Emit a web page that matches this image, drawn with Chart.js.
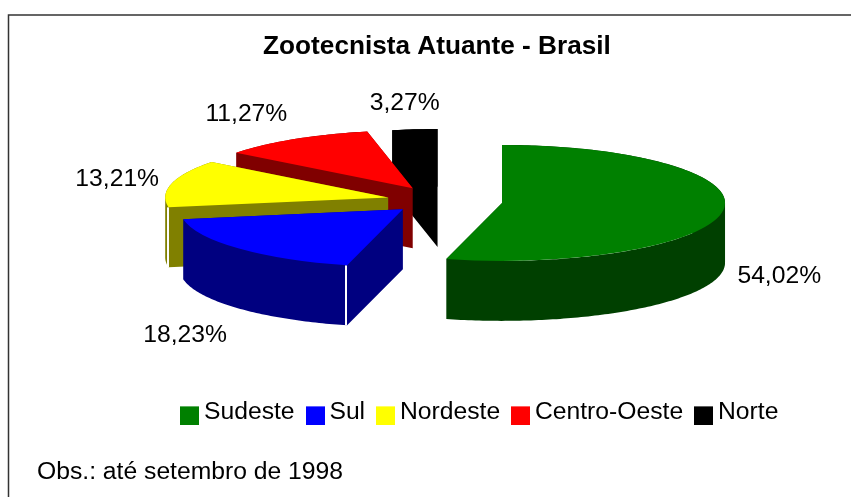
<!DOCTYPE html>
<html>
<head>
<meta charset="utf-8">
<style>html,body{margin:0;padding:0;background:#fff}canvas{display:block}</style>
<script src="https://cdn.jsdelivr.net/npm/chart.js@4"></script>
</head>
<body>
<canvas id="c" width="851" height="497"></canvas>
<script>
const categories = ['Sudeste', 'Sul', 'Nordeste', 'Centro-Oeste', 'Norte'];
const values = [54.02, 18.23, 13.21, 11.27, 3.27];
const topColors = ['#008000', '#0000FF', '#FFFF00', '#FF0000', '#000000'];
const sideColors = ['#004000', '#000080', '#808000', '#800000', '#000000'];
const chartTitle = 'Zootecnista Atuante - Brasil';
const footnote = 'Obs.: até setembro de 1998';

const FONT = '"Liberation Sans", Arial, sans-serif';
const drawOrder = [4, 3, 2, 1, 0];
const pieCentre = { x: 444.5, y: 201 };
const tilt = 0.26;
const depth = 60;
const explode = 58;
// Small per-slice refinements of the exploded position
const sliceNudge = [[0, 0], [1, -2], [0, 0], [-1, 0], [-1, 1]];
// Label nudges from the rim point of each slice's middle angle
const labelNudge = [[56, 66], [-54, 87], [-54.5, -4], [-48, -25], [-10, -26]];

function sliceShift(arc) {
  const mid = (arc.startAngle + arc.endAngle) / 2;
  const n = sliceNudge[arc.$index] || [0, 0];
  return { x: explode * Math.cos(mid) + n[0], y: tilt * explode * Math.sin(mid) + n[1] };
}

function rimPoint(arc, angle, r, dy) {
  const s = sliceShift(arc);
  return {
    x: pieCentre.x + s.x + r * Math.cos(angle),
    y: pieCentre.y + s.y + tilt * r * Math.sin(angle) + dy
  };
}

function addQuad(ctx, p, q, dy) {
  // Every quad runs the same way round, so one nonzero fill has no seams
  const [a, b] = p.x <= q.x ? [p, q] : [q, p];
  ctx.moveTo(a.x, a.y);
  ctx.lineTo(b.x, b.y);
  ctx.lineTo(b.x, b.y + dy);
  ctx.lineTo(a.x, a.y + dy);
  ctx.closePath();
}

function drawSides(ctx, arc, color) {
  const R = arc.outerRadius, a0 = arc.startAngle, a1 = arc.endAngle;
  ctx.beginPath();
  [a0, a1].forEach(a => addQuad(ctx, rimPoint(arc, a, 0, 0), rimPoint(arc, a, R, 0), depth));
  const steps = Math.max(8, Math.ceil((a1 - a0) * 60));
  for (let s = 0; s < steps; s++) {
    const b0 = a0 + (a1 - a0) * s / steps;
    const b1 = a0 + (a1 - a0) * (s + 1) / steps;
    addQuad(ctx, rimPoint(arc, b0, R, 0), rimPoint(arc, b1, R, 0), depth);
  }
  ctx.fillStyle = color;
  ctx.fill('nonzero');
  // Thin light seam where the rim meets a visible cut face
  if (Math.sin(a0) > 0) {
    const p = rimPoint(arc, a0, R, 0);
    ctx.fillStyle = '#fff';
    ctx.fillRect(Math.round(p.x) - 2, p.y, 2, depth);
  }
}

function legendSwatch(color) {
  // The square sits below the centre of its image, as in the reference legend
  const c = document.createElement('canvas');
  c.width = 19;
  c.height = 27;
  const g = c.getContext('2d');
  g.fillStyle = color;
  g.fillRect(0, 8, 19, 19);
  return c;
}

const pie3d = {
  id: 'pie3d',
  beforeDatasetDraw(chart) {
    const ctx = chart.ctx;
    const arcs = chart.getDatasetMeta(0).data;
    arcs.forEach((arc, i) => { arc.$index = i; });
    drawOrder.forEach(i => {
      const arc = arcs[i];
      const s = sliceShift(arc);
      ctx.save();
      drawSides(ctx, arc, sideColors[i]);
      ctx.translate(pieCentre.x + s.x, pieCentre.y + s.y);
      ctx.scale(1, tilt);
      ctx.translate(-arc.x, -arc.y);
      arc.draw(ctx, chart.chartArea);
      ctx.restore();
    });
    return false;
  },
  afterDatasetsDraw(chart) {
    const ctx = chart.ctx;
    const arcs = chart.getDatasetMeta(0).data;
    ctx.save();
    ctx.fillStyle = '#000';
    ctx.textAlign = 'center';
    ctx.textBaseline = 'middle';
    ctx.font = '24.7px ' + FONT;
    arcs.forEach((arc, i) => {
      const mid = (arc.startAngle + arc.endAngle) / 2;
      const p = rimPoint(arc, mid, arc.outerRadius, 0);
      const text = values[i].toFixed(2).replace('.', ',') + '%';
      ctx.fillText(text, p.x + labelNudge[i][0], p.y + labelNudge[i][1]);
    });
    ctx.textAlign = 'left';
    ctx.textBaseline = 'alphabetic';
    ctx.fillText(footnote, 37, 479);
    ctx.restore();
  }
};

const frame = {
  id: 'frame',
  beforeDraw(chart) {
    const ctx = chart.ctx;
    ctx.save();
    ctx.fillStyle = '#fff';
    ctx.fillRect(0, 0, chart.width, chart.height);
    ctx.strokeStyle = '#333';
    ctx.lineWidth = 1.5;
    ctx.beginPath();
    ctx.moveTo(8.5, 497);
    ctx.lineTo(8.5, 15);
    ctx.lineTo(851, 15);
    ctx.stroke();
    ctx.restore();
  },
  afterLayout(chart) {
    const t = chart.titleBlock, l = chart.legend;
    const tShift = 437 - (t.left + t.right) / 2;
    t.left += tShift; t.right += tShift;
    const tUp = 31 - t.top;
    t.top += tUp; t.bottom += tUp;
    const lShift = 483 - (l.left + l.right) / 2;
    l.left += lShift; l.right += lShift;
    const h = l.bottom - l.top;
    l.top = 381; l.bottom = 381 + h;
  }
};

new Chart(document.getElementById('c'), {
  type: 'pie',
  data: {
    labels: categories,
    datasets: [{
      data: values,
      backgroundColor: topColors,
      borderWidth: 0,
      clip: false
    }]
  },
  options: {
    responsive: false,
    animation: false,
    radius: 223,
    layout: { padding: 0 },
    plugins: {
      tooltip: { enabled: false },
      title: {
        display: true,
        text: chartTitle,
        color: '#000',
        font: { family: FONT, size: 26.2, weight: 'bold' },
        padding: 0
      },
      legend: {
        display: true,
        position: 'bottom',
        labels: {
          color: '#000',
          font: { family: FONT, size: 24.7, lineHeight: 1 },
          usePointStyle: true,
          boxWidth: 4,
          boxHeight: 19,
          padding: 18.5,
          generateLabels() {
            return categories.map((name, i) => ({
              text: name, fillStyle: topColors[i], strokeStyle: topColors[i],
              lineWidth: 0, pointStyle: legendSwatch(topColors[i]), index: i, fontColor: '#000'
            }));
          }
        }
      }
    }
  },
  plugins: [frame, pie3d]
});
</script>
</body>
</html>
